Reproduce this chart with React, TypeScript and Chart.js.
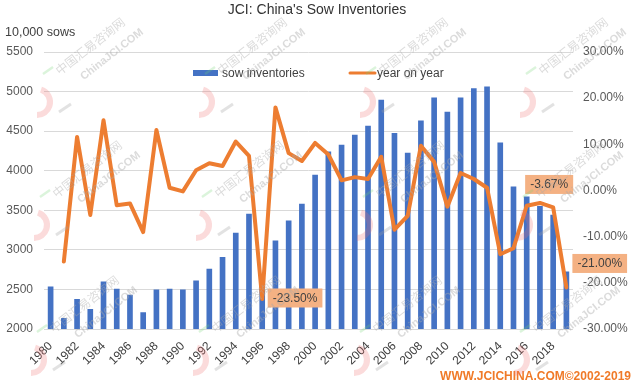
import React, { useEffect, useRef } from "react";
import { Chart, registerables } from "chart.js";

Chart.register(...registerables);

const TITLE = "JCI: China's Sow Inventories";
const LEFT_UNIT = "10,000 sows";
const SOURCE = "WWW.JCICHINA.COM©2002-2019";
const WATERMARK_CN = "中国汇易咨询网";
const WATERMARK_EN = "ChinaJCI.COM";
const SERIES_BAR = "sow inventories";
const SERIES_LINE = "year on year";

const years: string[] = [
  "1980", "1981", "1982", "1983", "1984", "1985", "1986", "1987", "1988", "1989",
  "1990", "1991", "1992", "1993", "1994", "1995", "1996", "1997", "1998", "1999",
  "2000", "2001", "2002", "2003", "2004", "2005", "2006", "2007", "2008", "2009",
  "2010", "2011", "2012", "2013", "2014", "2015", "2016", "2017", "2018", "2019",
];

// 10,000 sows
const sowInventories: number[] = [
  2534, 2135, 2375, 2250, 2597, 2505, 2430, 2206, 2495, 2505,
  2495, 2608, 2758, 2905, 3212, 3452, 2640, 3115, 3367, 3578,
  3944, 4239, 4323, 4450, 4563, 4891, 4471, 4222, 4630, 4920,
  4740, 4920, 5039, 5060, 4352, 3797, 3671, 3550, 3440, 2723,
];

// percent
const yearOnYear: (number | null)[] = [
  null, -15.4, 11.6, -5.3, 15.2, -3.2, -2.8, -9.0, 13.1, 0.6,
  -0.2, 4.4, 5.9, 5.3, 10.6, 7.5, -23.5, 18.0, 8.1, 6.4,
  10.3, 7.8, 2.2, 2.9, 2.5, 7.3, -8.5, -5.5, 9.7, 6.2,
  -3.5, 3.8, 2.5, 0.6, -13.8, -12.5, -3.3, -2.7, -3.67, -21.0,
];

const labelledYears: string[] = ["1996", "2018", "2019"];

const leftMin = 2000;
const leftMax = 5500;
const leftStep = 500;
const rightMin = -30;
const rightMax = 30;
const rightStep = 10;

const FONT = "'Liberation Sans', Arial, sans-serif";
const CN_FONT = "'Noto Sans CJK SC', sans-serif";
const BAR_COLOR = "#4472C4";
const LINE_COLOR = "#ED7D31";
const LABEL_FILL = "#F4B183";
const TEXT_COLOR = "#404040";
const TICK_COLOR = "#595959";

const overlayPlugin = {
  id: "overlay",
  beforeDraw(chart: any) {
    const ctx: CanvasRenderingContext2D = chart.ctx;
    ctx.save();
    ctx.fillStyle = "#ffffff";
    ctx.fillRect(0, 0, chart.width, chart.height);
    ctx.restore();
  },
  afterDatasetsDraw(chart: any) {
    const ctx: CanvasRenderingContext2D = chart.ctx;
    // legend (inside plot area)
    ctx.save();
    ctx.font = `12px ${FONT}`;
    ctx.textBaseline = "middle";
    ctx.textAlign = "left";
    ctx.fillStyle = BAR_COLOR;
    ctx.fillRect(193, 70, 25, 6);
    ctx.fillStyle = TEXT_COLOR;
    ctx.fillText(SERIES_BAR, 222, 73.5);
    ctx.strokeStyle = LINE_COLOR;
    ctx.lineWidth = 3;
    ctx.lineCap = "round";
    ctx.beginPath();
    ctx.moveTo(350, 73);
    ctx.lineTo(375, 73);
    ctx.stroke();
    ctx.fillStyle = TEXT_COLOR;
    ctx.fillText(SERIES_LINE, 377, 73.5);
    ctx.restore();

    // data labels
    const meta = chart.getDatasetMeta(1);
    ctx.save();
    ctx.font = `12px ${FONT}`;
    ctx.textBaseline = "middle";
    ctx.textAlign = "left";
    for (const y of labelledYears) {
      const i = years.indexOf(y);
      const el = meta.data[i];
      const v = yearOnYear[i] as number;
      const text = v.toFixed(2) + "%";
      const w = ctx.measureText(text).width + 10;
      const h = 19;
      let bx = 0;
      let by = 0;
      if (y === "1996") {
        bx = el.x + 5.5;
        by = el.y - 1 - h / 2;
      } else if (y === "2018") {
        bx = el.x - 4 - w / 2;
        by = el.y - 23 - h / 2;
      } else {
        bx = el.x + 6;
        by = el.y - 24 - h / 2;
      }
      ctx.fillStyle = LABEL_FILL;
      ctx.fillRect(bx, by, w, h);
      ctx.fillStyle = TEXT_COLOR;
      ctx.fillText(text, bx + 5, by + h / 2 + 0.5);
    }
    ctx.restore();
  },
  afterDraw(chart: any) {
    const ctx: CanvasRenderingContext2D = chart.ctx;
    ctx.save();
    ctx.textBaseline = "middle";
    ctx.fillStyle = "#333333";
    ctx.textAlign = "center";
    ctx.font = `14px ${FONT}`;
    ctx.fillText(TITLE, 317, 10.5);

    ctx.font = `12.5px ${FONT}`;
    ctx.fillStyle = TEXT_COLOR;
    ctx.textAlign = "left";
    ctx.fillText(LEFT_UNIT, 5, 33);

    ctx.font = `bold 12px ${FONT}`;
    ctx.fillStyle = "#F07A28";
    ctx.textAlign = "right";
    ctx.fillText(SOURCE, 631, 377);
    ctx.restore();

    // faint watermark tiles
    const tiles: [number, number][] = [];
    const cols = [57, 219, 380, 540];
    const rows = [72, 195, 330];
    rows.forEach((ry, r) => cols.forEach((cx) => tiles.push([cx - r * 3, ry])));
    for (const [x, y] of tiles) {
      ctx.save();
      // red hook
      ctx.strokeStyle = "rgba(240, 110, 110, 0.25)";
      ctx.lineWidth = 6;
      ctx.beginPath();
      ctx.arc(x - 20, y + 30, 13, -0.4 * Math.PI, 0.5 * Math.PI);
      ctx.stroke();
      // green tick
      ctx.strokeStyle = "rgba(110, 210, 110, 0.25)";
      ctx.lineWidth = 2.5;
      ctx.beginPath();
      ctx.moveTo(x - 14, y + 2);
      ctx.lineTo(x - 4, y - 5);
      ctx.stroke();
      // gray dash
      ctx.strokeStyle = "rgba(160, 160, 160, 0.3)";
      ctx.lineWidth = 3;
      ctx.beginPath();
      ctx.moveTo(x + 2, y + 40);
      ctx.lineTo(x + 14, y + 32);
      ctx.stroke();
      ctx.translate(x, y);
      ctx.rotate((-38 * Math.PI) / 180);
      ctx.fillStyle = "rgba(170, 170, 170, 0.42)";
      ctx.textBaseline = "middle";
      ctx.textAlign = "left";
      ctx.font = `12px ${CN_FONT}`;
      ctx.fillText(WATERMARK_CN, 0, 0);
      ctx.font = `bold 11px ${FONT}`;
      ctx.fillText(WATERMARK_EN, 16, 20);
      ctx.restore();
    }
  },
};

export default function App() {
  const ref = useRef<HTMLCanvasElement | null>(null);
  useEffect(() => {
    if (!ref.current) return;
    const chart = new Chart(ref.current, {
      type: "bar",
      data: {
        labels: years,
        datasets: [
          {
            type: "bar",
            label: SERIES_BAR,
            data: sowInventories,
            backgroundColor: BAR_COLOR,
            barThickness: 5,
            yAxisID: "y",
            order: 2,
          },
          {
            type: "line",
            label: SERIES_LINE,
            data: yearOnYear,
            borderColor: LINE_COLOR,
            backgroundColor: LINE_COLOR,
            borderWidth: 4,
            pointRadius: 0,
            tension: 0,
            borderJoinStyle: "round",
            borderCapStyle: "round",
            yAxisID: "y1",
            order: 1,
          } as any,
        ],
      },
      options: {
        responsive: false,
        animation: false,
        devicePixelRatio: 1,
        layout: { padding: { top: 52, left: 0, right: 0, bottom: 0 } },
        plugins: {
          legend: { display: false },
          tooltip: { enabled: false },
          title: { display: false },
        },
        scales: {
          x: {
            type: "category",
            offset: true,
            grid: { display: false },
            border: { display: false },
            ticks: {
              autoSkip: false,
              minRotation: 45,
              maxRotation: 45,
              padding: 2,
              color: TEXT_COLOR,
              font: { family: FONT, size: 12 },
              callback: (_v: any, i: number) => (i % 2 === 0 ? years[i] : ""),
            },
            afterFit: (s: any) => {
              s.height = 57;
            },
          },
          y: {
            position: "left",
            min: leftMin,
            max: leftMax,
            grid: { color: "#D9D9D9", drawTicks: false },
            border: { display: false },
            ticks: {
              stepSize: leftStep,
              padding: 11,
              color: TICK_COLOR,
              font: { family: FONT, size: 12 },
              callback: (v: any) => String(v),
            },
            afterFit: (s: any) => {
              s.width = 44;
            },
          },
          y1: {
            position: "right",
            min: rightMin,
            max: rightMax,
            grid: { display: false, drawTicks: false },
            border: { display: false },
            ticks: {
              stepSize: rightStep,
              padding: 10,
              color: TICK_COLOR,
              font: { family: FONT, size: 12 },
              callback: (v: any) => Number(v).toFixed(2) + "%",
            },
            afterFit: (s: any) => {
              s.width = 62;
            },
          },
        },
      } as any,
      plugins: [overlayPlugin],
    });
    return () => chart.destroy();
  }, []);
  return (
    <div style={{ position: "absolute", left: 0, top: 0, width: 635, height: 386, background: "#fff" }}>
      <canvas ref={ref} width={635} height={386} style={{ display: "block" }} />
    </div>
  );
}
